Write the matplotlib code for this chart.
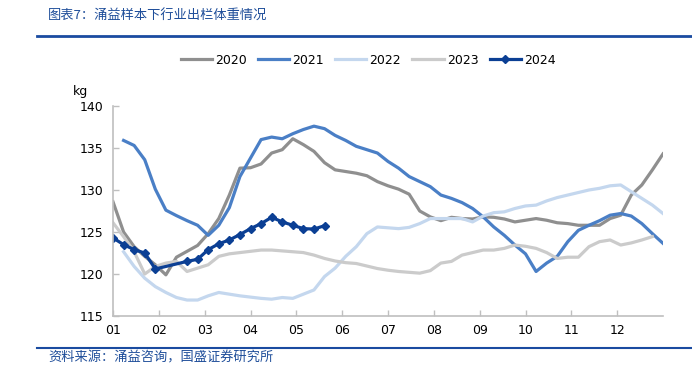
import matplotlib
matplotlib.use("Agg")
import matplotlib.pyplot as plt
from matplotlib.lines import Line2D
import numpy as np

# weekly slaughter weight (kg), week index 0..52 along the year
years = ['2020', '2021', '2022', '2023', '2024']

w2020 = list(range(0, 53))
v2020 = [128.6, 125.0, 123.25, 122.1, 121.1, 119.9, 122.0, 122.7, 123.4, 124.8, 126.6, 129.4, 132.6,
         132.65, 133.1, 134.4, 134.8, 136.1, 135.4, 134.6, 133.25, 132.4, 132.2, 132.0, 131.7, 131.0, 130.5,
         130.1, 129.5, 127.5, 126.8, 126.35, 126.75, 126.6, 126.55, 126.8, 126.75, 126.55, 126.2, 126.4,
         126.6, 126.4, 126.1, 126.0, 125.8, 125.8, 125.8, 126.6, 127.0, 129.4, 130.6, 132.4, 134.3]

w2021 = list(range(1, 53))
v2021 = [135.9, 135.3, 133.6, 130.1, 127.6, 126.95, 126.35, 125.8, 124.6, 125.8, 127.9, 131.6,
         133.8, 136.0, 136.3, 136.1, 136.7, 137.2, 137.6, 137.3, 136.5, 135.9, 135.2, 134.8, 134.4, 133.4,
         132.6, 131.6, 131.0, 130.4, 129.4, 129.0, 128.5, 127.8, 126.8, 125.6, 124.6, 123.45, 122.4,
         120.3, 121.3, 122.1, 123.85, 125.2, 125.8, 126.35, 127.0, 127.2, 126.9, 126.0, 124.8, 123.65]

w2022 = list(range(1, 53))
v2022 = [122.65, 120.9, 119.5, 118.5, 117.8, 117.2, 116.9, 116.9, 117.4, 117.8, 117.6, 117.4,
         117.25, 117.1, 117.0, 117.2, 117.1, 117.6, 118.1, 119.7, 120.7, 122.1, 123.25, 124.8, 125.6, 125.5,
         125.4, 125.55, 126.0, 126.6, 126.6, 126.6, 126.6, 126.2, 126.9, 127.3, 127.4, 127.8, 128.1,
         128.2, 128.7, 129.1, 129.4, 129.7, 130.0, 130.2, 130.5, 130.6, 129.8, 129.0, 128.2, 127.2]

w2023 = list(range(0, 52))
v2023 = [126.1, 124.45, 122.65, 120.0, 120.9, 121.3, 121.5, 120.3, 120.7, 121.1, 122.1, 122.4, 122.55,
         122.7, 122.85, 122.85, 122.75, 122.65, 122.55, 122.25, 121.85, 121.55, 121.35, 121.25, 120.95, 120.65, 120.45,
         120.3, 120.2, 120.1, 120.4, 121.3, 121.5, 122.25, 122.55, 122.85, 122.85, 123.05, 123.45, 123.3,
         123.05, 122.55, 121.85, 122.0, 122.0, 123.25, 123.85, 124.05, 123.45, 123.7, 124.05, 124.45]

w2024 = [0, 1, 2, 3, 4] + list(range(7, 21))
v2024 = [124.3, 123.5, 122.9, 122.5, 120.6,
         121.5, 121.75, 122.9, 123.6, 124.05, 124.7, 125.4, 126.0, 126.75, 126.2, 125.8, 125.4, 125.35, 125.75]

month_labels = ['01', '02', '03', '04', '05', '06', '07', '08', '09', '10', '11', '12']

title = '图表7：涌益样本下行业出栏体重情况'
source = '资料来源：涌益咨询，国盛证券研究所'

plt.rcParams['font.family'] = ['DejaVu Sans', 'Noto Sans CJK SC']

fig = plt.figure(figsize=(6.92, 3.84), dpi=100)
ax = fig.add_axes([113/692, 1-316/384, 550/692, 210/384])

lw = 2.3
ax.plot(w2020, v2020, color='#8f8f8f', lw=lw, label='2020')
ax.plot(w2021, v2021, color='#4a7fc6', lw=lw, label='2021')
ax.plot(w2022, v2022, color='#c4d7ee', lw=lw, label='2022')
ax.plot(w2023, v2023, color='#cbcbcb', lw=lw, label='2023')
ax.plot(w2024, v2024, color='#0b3f94', lw=lw, marker='D', markersize=4.2, label='2024')

ax.set_xlim(0, 52)
ax.set_ylim(115, 140)
ax.set_yticks(np.arange(115, 141, 5))
ax.set_xticks(np.arange(12) * 52 / 12)
ax.set_xticklabels(month_labels)
ax.tick_params(labelsize=9, colors='#bfbfbf', labelcolor='black', length=4,
               direction='in', width=1.0)
ax.tick_params(axis='x', pad=6)
ax.tick_params(axis='y', pad=7)
for s in ['top', 'right']:
    ax.spines[s].set_visible(False)
ax.spines['left'].set_color('#bfbfbf')
ax.spines['bottom'].set_color('#bfbfbf')
ax.spines['left'].set_linewidth(1.2)
ax.spines['bottom'].set_linewidth(1.2)

fig.text(73/692, 1-92/384, 'kg', fontsize=9, va='center')

fig.legend(loc='center', bbox_to_anchor=(0.532, 1-60/384), ncol=5, frameon=False,
           fontsize=9, handlelength=2.5, handletextpad=0.25, columnspacing=0.9)

cjk = ['Noto Sans CJK SC', 'DejaVu Sans']
fig.text(48/692, 1-16/384, title, fontsize=9.5, color='#1f4e9a', family=cjk,
         va='center', style='italic')
fig.add_artist(Line2D([37/692, 1.0], [1-36/384]*2, color='#1a4ba0', lw=2))
fig.add_artist(Line2D([37/692, 1.0], [1-348/384]*2, color='#1a4ba0', lw=1.5))
fig.text(48/692, 1-358/384, source, fontsize=9.5, color='#1f4e9a', family=cjk,
         va='center', style='italic')

fig.savefig('out.png', dpi=100)
